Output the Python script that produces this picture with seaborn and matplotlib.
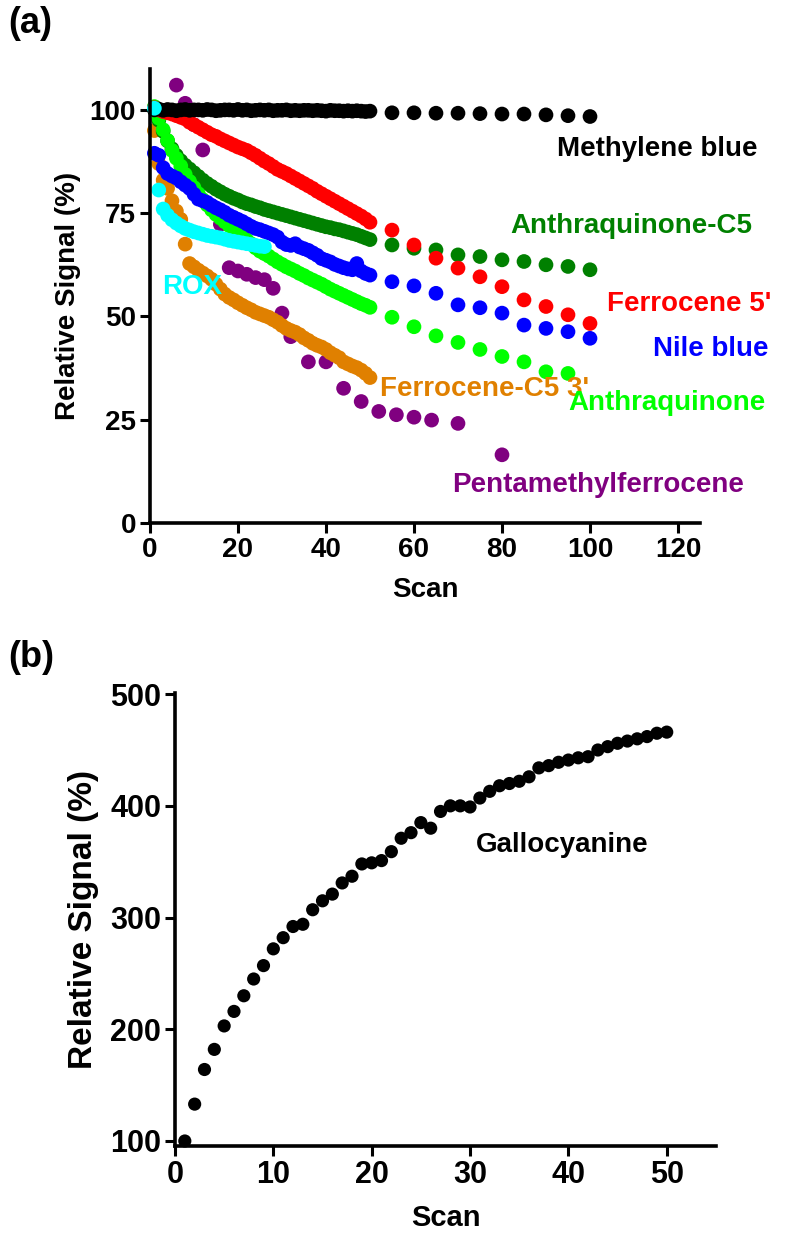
import matplotlib
matplotlib.use("Agg")
import matplotlib.pyplot as plt
import pandas as pd
import seaborn as sns

# ---------------- data: panel (a) ----------------
scans_dense = list(range(1, 51))
scans_sparse = [55, 60, 65, 70, 75, 80, 85, 90, 95, 100]
scans_rox = list(range(1, 27))

methylene_dense = [100.0, 100.2, 99.9, 100.1, 100.0, 99.8, 100.0, 100.1, 99.9, 100.0,
                   100.0, 99.9, 100.1, 100.0, 99.8, 99.9, 100.0, 100.0, 99.9, 100.1,
                   99.9, 100.0, 99.8, 99.9, 100.0, 99.9, 100.0, 99.8, 99.9, 99.9,
                   100.0, 99.8, 99.9, 99.8, 99.9, 99.9, 99.8, 99.9, 99.8, 99.7,
                   99.9, 99.8, 99.8, 99.7, 99.8, 99.7, 99.8, 99.7, 99.6, 99.7]
methylene_sparse = [99.3, 99.3, 99.2, 99.2, 99.1, 99.0, 99.0, 98.8, 98.6, 98.4]

fc5_dense = [100.5, 100.0, 99.6, 99.3, 99.0, 98.6, 98.2, 97.8, 97.0, 96.4,
             95.8, 95.2, 94.6, 94.0, 93.6, 93.0, 92.5, 92.0, 91.5, 91.0,
             90.6, 90.2, 89.6, 89.0, 88.3, 87.6, 87.0, 86.3, 85.6, 85.1,
             84.6, 84.0, 83.4, 82.8, 82.2, 81.6, 81.0, 80.3, 79.7, 79.1,
             78.5, 77.9, 77.3, 76.7, 76.1, 75.5, 74.9, 74.3, 73.6, 72.8]
fc5_sparse = [70.9, 67.3, 64.1, 61.7, 59.6, 57.2, 54.0, 52.4, 50.4, 48.3]

aqc5_dense = [100.5, 97.5, 94.8, 92.5, 90.6, 89.0, 87.7, 86.6, 85.7, 84.8,
              83.9, 83.0, 82.2, 81.5, 80.8, 80.2, 79.6, 79.1, 78.6, 78.2,
              77.7, 77.3, 77.0, 76.6, 76.3, 75.9, 75.6, 75.3, 75.0, 74.7,
              74.4, 74.1, 73.8, 73.5, 73.2, 72.9, 72.6, 72.3, 72.0, 71.7,
              71.5, 71.2, 71.0, 70.7, 70.4, 70.1, 69.8, 69.4, 69.0, 68.6]
aqc5_sparse = [67.3, 66.5, 66.1, 64.9, 64.5, 63.7, 63.3, 62.5, 62.1, 61.3]

nile_dense = [89.5, 89.0, 86.0, 84.6, 84.0, 83.5, 82.6, 81.8, 81.0, 79.6,
              78.4, 78.0, 77.6, 76.9, 76.3, 75.8, 75.2, 74.5, 74.0, 73.5,
              73.0, 72.4, 71.8, 71.3, 71.0, 70.6, 70.2, 69.8, 69.2, 68.0,
              67.4, 67.2, 67.6, 66.8, 66.4, 66.0, 65.4, 64.8, 64.0, 63.6,
              63.2, 62.6, 62.2, 61.8, 61.5, 61.3, 62.8, 61.0, 60.4, 60.0]
nile_sparse = [58.4, 57.4, 55.6, 52.8, 52.1, 50.8, 47.9, 47.1, 46.3, 44.7]

aq_dense = [100.8, 98.0, 95.2, 92.6, 90.2, 88.3, 86.4, 84.4, 82.7, 81.2,
            79.7, 78.3, 77.0, 75.8, 74.7, 73.8, 72.9, 72.0, 71.2, 70.3,
            69.4, 68.5, 67.6, 66.6, 65.8, 65.2, 64.6, 63.9, 63.2, 62.6,
            62.0, 61.5, 61.0, 60.4, 59.9, 59.3, 58.8, 58.3, 57.8, 57.2,
            56.6, 56.1, 55.6, 55.1, 54.6, 54.1, 53.6, 53.1, 52.7, 52.2]
aq_scans_sparse = [55, 60, 65, 70, 75, 80, 85, 90, 95]
aq_sparse = [49.8, 47.5, 45.3, 43.7, 42.0, 40.3, 39.0, 36.6, 36.2]

rox_vals = [100.4, 80.6, 76.0, 74.5, 73.4, 72.6, 71.9, 71.3, 70.9, 70.5,
            70.2, 69.9, 69.6, 69.4, 69.2, 69.0, 68.7, 68.4, 68.2, 68.0,
            67.8, 67.6, 67.4, 67.2, 67.0, 66.9]

fcc5_dense = [95.0, 87.0, 83.0, 81.0, 78.0, 75.5, 73.5, 67.5, 62.8, 62.0,
              61.2, 60.5, 59.8, 59.0, 57.8, 56.6, 55.4, 54.6, 54.0, 53.3,
              52.7, 52.1, 51.6, 51.0, 50.6, 50.2, 49.8, 49.2, 48.6, 47.8,
              47.1, 46.6, 46.2, 45.6, 44.8, 44.2, 43.5, 43.0, 42.6, 42.0,
              41.2, 40.6, 40.0, 39.0, 38.5, 38.0, 37.6, 37.0, 36.2, 35.2]

pmfc_scans = [4, 6, 8, 10, 12, 16, 18, 20, 22, 24, 26, 28, 30, 32, 36, 40,
              44, 48, 52, 56, 60, 64, 70, 80]
pmfc_vals = [99.5, 106.0, 101.6, 96.4, 90.3, 72.3, 61.8, 61.0, 60.2, 59.4,
             58.9, 56.8, 50.8, 45.1, 39.0, 39.0, 32.6, 29.4, 27.0, 26.2,
             25.6, 24.9, 24.1, 16.5]

# ---------------- data: panel (b) ----------------
gallo_scans = list(range(1, 51))
gallo_vals = [100, 133, 164, 182, 203, 216, 230, 245, 257, 272,
              282, 292, 294, 307, 315, 321, 331, 337, 348, 349,
              351, 359, 371, 376, 385, 380, 395, 400, 400, 399,
              407, 413, 418, 420, 422, 426, 434, 436, 439, 441,
              443, 444, 450, 453, 456, 458, 460, 462, 465, 466]

# ---------------- style ----------------
sns.set_style("ticks")
plt.rcParams["font.family"] = ["Liberation Sans", "DejaVu Sans"]
plt.rcParams["font.weight"] = "bold"
plt.rcParams["axes.labelweight"] = "bold"
plt.rcParams["text.color"] = "black"
plt.rcParams["axes.labelcolor"] = "black"
plt.rcParams["xtick.color"] = "black"
plt.rcParams["ytick.color"] = "black"

C_BLACK = "#000000"
C_RED = "#FF0000"
C_DKGREEN = "#008000"
C_BLUE = "#0000FF"
C_GREEN = "#00FF00"
C_CYAN = "#00FFFF"
C_ORANGE = "#E08000"
C_PURPLE = "#800080"

FS = 20
MS_A = 112
MS_B = 90

fig = plt.figure(figsize=(7.99, 12.36), dpi=100)
ax1 = fig.add_axes([0.1877, 0.5769, 0.6884, 0.3676])
ax2 = fig.add_axes([0.219, 0.0728, 0.677, 0.3665])


def dots(ax, x, y, color, size):
    df = pd.DataFrame({"Scan": x, "Signal": y})
    sns.scatterplot(data=df, x="Scan", y="Signal", color=color, s=size,
                    linewidth=0, edgecolor="none", ax=ax, clip_on=False)


# bottom-to-top drawing order
dots(ax1, pmfc_scans, pmfc_vals, C_PURPLE, MS_A)
dots(ax1, scans_dense, fcc5_dense, C_ORANGE, MS_A)
dots(ax1, scans_dense + scans_sparse, aqc5_dense + aqc5_sparse, C_DKGREEN, MS_A)
dots(ax1, scans_dense + aq_scans_sparse, aq_dense + aq_sparse, C_GREEN, MS_A)
dots(ax1, scans_dense + scans_sparse, nile_dense + nile_sparse, C_BLUE, MS_A)
dots(ax1, scans_dense + scans_sparse, fc5_dense + fc5_sparse, C_RED, MS_A)
dots(ax1, scans_dense + scans_sparse, methylene_dense + methylene_sparse, C_BLACK, MS_A)
dots(ax1, scans_rox, rox_vals, C_CYAN, MS_A)

labels_a = [
    ("Methylene blue", 92.5, 90.5, C_BLACK),
    ("Anthraquinone-C5", 81.8, 71.9, C_DKGREEN),
    ("Ferrocene 5'", 103.9, 53.0, C_RED),
    ("Nile blue", 114.3, 42.1, C_BLUE),
    ("Ferrocene-C5 3'", 52.3, 32.5, C_ORANGE),
    ("Anthraquinone", 95.0, 29.0, C_GREEN),
    ("Pentamethylferrocene", 68.6, 9.2, C_PURPLE),
    ("ROX", 2.7, 57.1, C_CYAN),
]
for txt, x, y, c in labels_a:
    ax1.text(x, y, txt, color=c, fontsize=FS, fontweight="bold",
             ha="left", va="center")

ax1.set_xlim(0, 125)
ax1.set_ylim(0, 110)
ax1.set_xticks([0, 20, 40, 60, 80, 100, 120])
ax1.set_yticks([0, 25, 50, 75, 100])
ax1.set_xlabel("Scan", fontsize=FS, fontweight="bold", labelpad=10, color="black")
ax1.set_ylabel("Relative Signal (%)", fontsize=FS, fontweight="bold", labelpad=6,
               color="black")

dots(ax2, gallo_scans, gallo_vals, C_BLACK, MS_B)
ax2.text(30.6, 365, "Gallocyanine", color=C_BLACK, fontsize=FS,
         fontweight="bold", ha="left", va="center")
ax2.set_xlim(0, 55)
ax2.set_ylim(95.5, 501)
ax2.set_xticks([0, 10, 20, 30, 40, 50])
ax2.set_yticks([100, 200, 300, 400, 500])
ax2.set_xlabel("Scan", fontsize=21, fontweight="bold", labelpad=10, color="black")
ax2.set_ylabel("Relative Signal (%)", fontsize=24, fontweight="bold", labelpad=8,
               color="black")

for ax, tfs in ((ax1, FS), (ax2, 22)):
    sns.despine(ax=ax)
    for side in ("left", "bottom"):
        ax.spines[side].set_linewidth(2.6)
        ax.spines[side].set_color("black")
    ax.tick_params(direction="out", length=7, width=2.2, labelsize=tfs,
                   colors="black", labelcolor="black", pad=3)
    for lab in ax.get_xticklabels() + ax.get_yticklabels():
        lab.set_fontweight("bold")
        lab.set_color("black")

fig.text(0.01, 0.995, "(a)", fontsize=26, fontweight="bold", ha="left", va="top",
         color="black")
fig.text(0.01, 0.482, "(b)", fontsize=26, fontweight="bold", ha="left", va="top",
         color="black")

fig.savefig("out.png", dpi=100, facecolor="white")
